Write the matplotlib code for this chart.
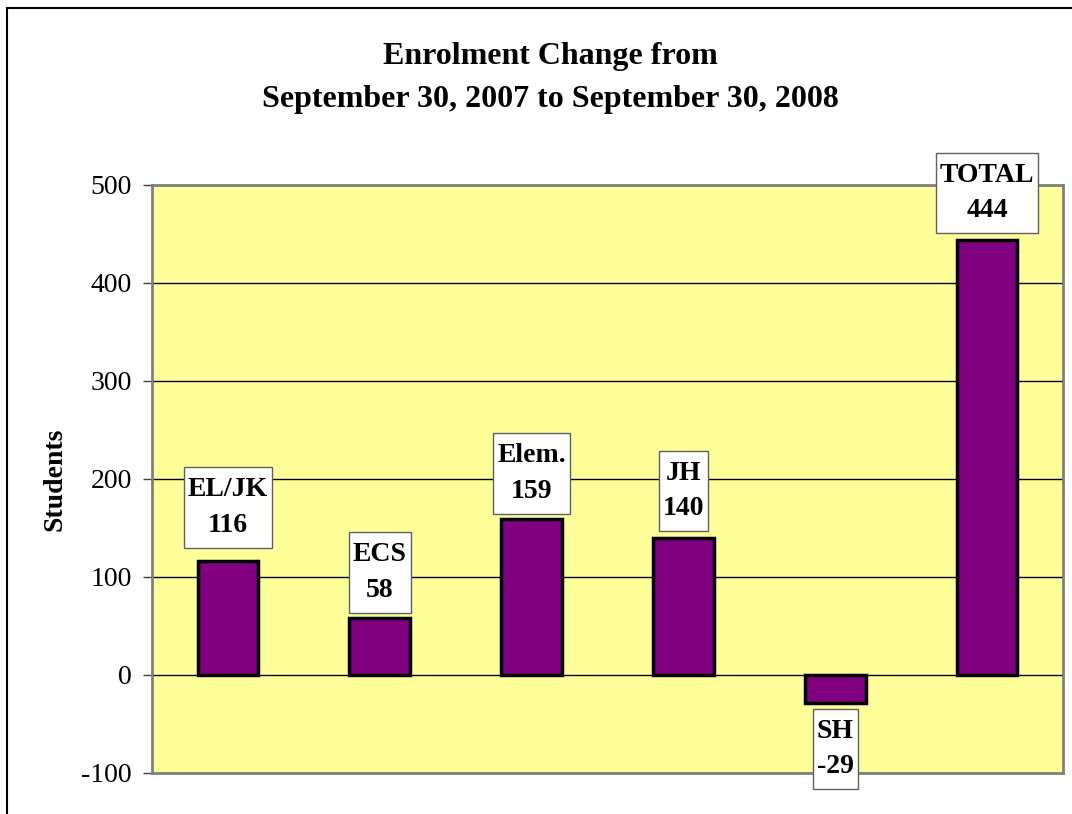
#!/usr/bin/env python3
"""Enrolment change bar chart, Sept 30 2007 -> Sept 30 2008."""

import matplotlib
matplotlib.use("Agg")
import matplotlib.pyplot as plt
from matplotlib.lines import Line2D
from matplotlib.path import Path

categories = ["EL/JK", "ECS", "Elem.", "JH", "SH", "TOTAL"]
changes = [116, 58, 159, 140, -29, 444]
yticks = [-100, 0, 100, 200, 300, 400, 500]

TITLE = "Enrolment Change from\nSeptember 30, 2007 to September 30, 2008"

# gap between bar end and label box, in pixels (labels were placed by hand)
label_gaps = [12, 4, 4, 5, 4, 5]

plt.rcParams["font.family"] = ["Liberation Serif", "DejaVu Serif"]
plt.rcParams["axes.unicode_minus"] = False

W, H = 1072, 814
PAD_X, PAD_Y = 0.15, 0.36  # label box padding, in font sizes


def label_box(x0, y0, width, height, mutation_size):
    # plain rectangle, narrower at the sides than at top/bottom
    px = PAD_X * mutation_size
    py = PAD_Y * mutation_size
    return Path([(x0 - px, y0 - py), (x0 + width + px, y0 - py),
                 (x0 + width + px, y0 + height + py),
                 (x0 - px, y0 + height + py), (x0 - px, y0 - py)],
                closed=True)


fig = plt.figure(figsize=(W / 100, H / 100), dpi=100)

# outer chart border (only top and left are inside the picture)
fig.add_artist(Line2D([7 / W, 7 / W], [0, 1 - 8 / H], color="black", lw=1.5))
fig.add_artist(Line2D([7 / W, 1], [1 - 8 / H, 1 - 8 / H], color="black", lw=1.5))

fig.text(550 / W, 1 - 78 / H, TITLE, ha="center", va="center",
         fontsize=23, fontweight="bold", linespacing=1.6)

ax = fig.add_axes([152 / W, 1 - 773 / H, (1063 - 152) / W, (773 - 185) / H])
ax.set_facecolor("#FFFF99")

x = list(range(len(categories)))
ax.bar(x, changes, width=0.4, color="#800080", edgecolor="black",
       linewidth=2.5, zorder=3)

ax.set_xlim(-0.5, len(categories) - 0.5)
ax.set_ylim(-100, 500)
ax.set_yticks(yticks)
ax.set_xticks([])
ax.tick_params(axis="y", direction="out", length=6.5, width=1,
               color="#404040", labelsize=20, pad=8)

ax.grid(axis="y", color="black", linewidth=1)
ax.set_axisbelow(True)
for sp in ax.spines.values():
    sp.set_color("#808080")
    sp.set_linewidth(2)

ax.set_ylabel("Students", fontsize=20, fontweight="bold")
ax.yaxis.set_label_coords(-0.093, 0.5)

fs = 20
for xi, val, name, gap in zip(x, changes, categories, label_gaps):
    off = gap * 0.72 + PAD_Y * fs + 1
    ax.annotate(
        f"{name}\n{val}",
        xy=(xi, val),
        xytext=(0, off if val >= 0 else -off),
        textcoords="offset points",
        ha="center",
        va="bottom" if val >= 0 else "top",
        fontsize=fs,
        fontweight="bold",
        linespacing=1.55,
        annotation_clip=False,
        zorder=5,
        bbox=dict(boxstyle=label_box, fc="white", ec="#606060", lw=1),
    )

fig.savefig("out.png", dpi=100)
